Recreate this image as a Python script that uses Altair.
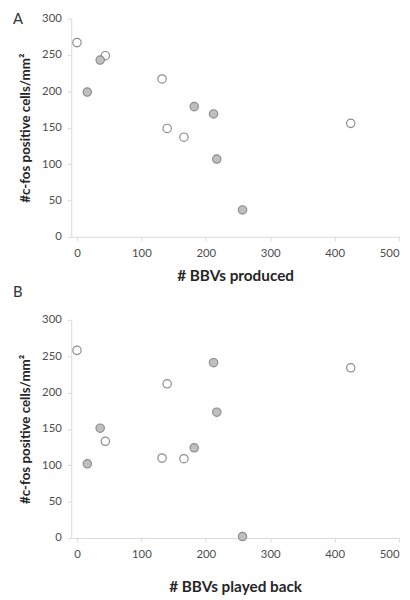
import altair as alt
import pandas as pd

# Panel A / B share the same birds (x = # BBVs)
open_x = [0, 44, 132, 140, 166, 425]
filled_x = [16, 36, 182, 212, 217, 257]

open_a = [267, 249, 217, 149, 137, 156]
filled_a = [199, 243, 179, 169, 107, 37]

open_b = [258, 133, 110, 212, 109, 234]
filled_b = [102, 151, 124, 241, 173, 2]

x_ticks = [0, 100, 200, 300, 400, 500]
y_ticks = [0, 50, 100, 150, 200, 250, 300]

def make_df(ox, oy, fx, fy):
    rows = [{"x": a, "y": b, "grp": "open"} for a, b in zip(ox, oy)]
    rows += [{"x": a, "y": b, "grp": "filled"} for a, b in zip(fx, fy)]
    return pd.DataFrame(rows)

df_a = make_df(open_x, open_a, filled_x, filled_a)
df_b = make_df(open_x, open_b, filled_x, filled_b)

FONT = "Lato"

def panel(df, xtitle, letter, title_offset, x_title_pad):
    return alt.Chart(df, title=alt.TitleParams(
        letter, anchor="start", frame="bounds", fontSize=15, fontWeight="normal",
        font=FONT, color="#333333", offset=title_offset, dx=-6)).mark_point(
        filled=True, size=72, strokeWidth=1.2, opacity=1
    ).encode(
        x=alt.X("x:Q", scale=alt.Scale(domain=[-9, 500], nice=False, zero=False),
                axis=alt.Axis(values=x_ticks, title=xtitle, grid=False,
                              tickSize=4, labelPadding=7, titlePadding=x_title_pad,
                              titleFontSize=15.5)),
        y=alt.Y("y:Q", scale=alt.Scale(domain=[0, 300], nice=False),
                axis=alt.Axis(values=y_ticks, title="#c-fos positive cells/mm²",
                              grid=False, tickSize=4, labelPadding=6,
                              titlePadding=9, titleFontSize=13.5)),
        fill=alt.Fill("grp:N", scale=alt.Scale(domain=["open", "filled"],
                                               range=["#ffffff", "#bfbfbf"]),
                      legend=None),
        stroke=alt.value("#8c8c8c"),
    ).properties(width=332, height=221)

chart = alt.vconcat(
    panel(df_a, "# BBVs produced", "A", -14, 10),
    panel(df_b, "# BBVs played back", "B", 14, 20),
    spacing=1,
).configure(
    padding={"left": 4, "right": 2, "top": 0, "bottom": 0}
).configure_view(stroke=None).configure_axis(
    domainColor="#d9d9d9", tickColor="#d9d9d9", labelColor="#4d4d4d",
    labelFont=FONT, labelFontSize=11.5, titleFont=FONT,
    titleFontWeight="bold", titleColor="#262626",
)

chart.save("out.html", embed_options={"renderer": "svg", "actions": False})
